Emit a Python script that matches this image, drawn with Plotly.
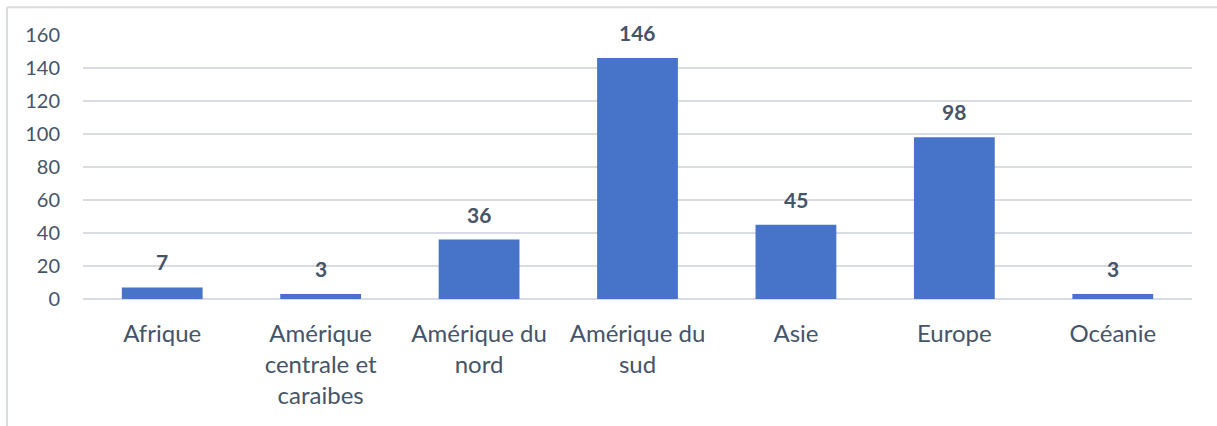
import plotly.graph_objects as go

# data
regions = ["Afrique", "Amérique<br>centrale et<br>caraibes", "Amérique du<br>nord",
           "Amérique du<br>sud", "Asie", "Europe", "Océanie"]
counts = [7, 3, 36, 146, 45, 98, 3]
y_ticks = [0, 20, 40, 60, 80, 100, 120, 140, 160]

TEXT = "#44546A"
GRID = "#D9DDE3"
FONT = "Lato, 'Open Sans', sans-serif"

fig = go.Figure(go.Bar(
    x=regions, y=counts,
    marker={"color": "#4773C8", "line": {"width": 0}},
))

# value labels sit a bit higher above the bars than plotly's "outside" text
for name, v in zip(regions, counts):
    fig.add_annotation(
        x=name, y=v, text=f"<b>{v}</b>", showarrow=False,
        yanchor="bottom", yshift=11,
        font={"size": 21, "color": TEXT, "family": FONT},
    )

fig.update_layout(
    width=1217, height=426,
    margin={"l": 83, "r": 25, "t": 35, "b": 127},
    paper_bgcolor="white", plot_bgcolor="white",
    bargap=0.49, showlegend=False,
    font={"family": FONT, "color": TEXT, "size": 20},
    xaxis={"showgrid": False, "showline": False, "ticks": "",
           "ticklabelstandoff": 18,
           "tickfont": {"size": 24, "color": TEXT}},
    yaxis={"range": [0, 160], "tickvals": y_ticks, "showgrid": True,
           "gridcolor": GRID, "gridwidth": 1.5, "zeroline": True,
           "zerolinecolor": GRID, "zerolinewidth": 1.5,
           "ticks": "", "ticklabelstandoff": 22,
           "tickfont": {"size": 20, "color": TEXT}},
    shapes=[
        {"type": "line", "xref": "paper", "yref": "paper",
         "x0": -0.0685, "x1": 1.03, "y0": 1.105, "y1": 1.105,
         "line": {"color": GRID, "width": 2}},
        {"type": "line", "xref": "paper", "yref": "paper",
         "x0": -0.0685, "x1": -0.0685, "y0": 1.105, "y1": -0.5,
         "line": {"color": GRID, "width": 2}},
    ],
)

# drop the browser's default 8px body margin so the figure sits at the page corner
fig.write_html("out.html", config={"displayModeBar": False},
               post_script="document.body.style.margin='0';")
